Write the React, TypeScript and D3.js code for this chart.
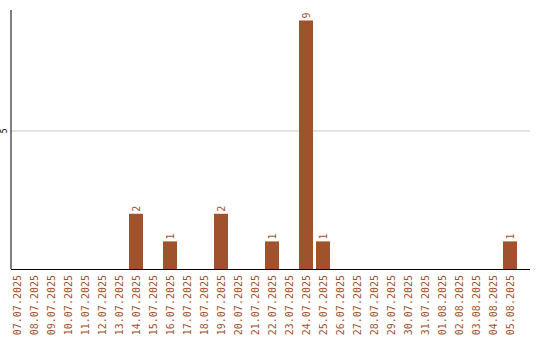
import React from "react";
import * as d3 from "d3";

const dates = [
  "07.07.2025", "08.07.2025", "09.07.2025", "10.07.2025", "11.07.2025",
  "12.07.2025", "13.07.2025", "14.07.2025", "15.07.2025", "16.07.2025",
  "17.07.2025", "18.07.2025", "19.07.2025", "20.07.2025", "21.07.2025",
  "22.07.2025", "23.07.2025", "24.07.2025", "25.07.2025", "26.07.2025",
  "27.07.2025", "28.07.2025", "29.07.2025", "30.07.2025", "31.07.2025",
  "01.08.2025", "02.08.2025", "03.08.2025", "04.08.2025", "05.08.2025",
];
const counts = [
  0, 0, 0, 0, 0, 0, 0, 2, 0, 1,
  0, 0, 2, 0, 0, 1, 0, 9, 1, 0,
  0, 0, 0, 0, 0, 0, 0, 0, 0, 1,
];
const yTicks = [5];

const W = 540;
const H = 340;
const left = 11;
const right = 530;
const top = 10;
const bottom = 269;
const color = "#a0522d";
const mono = "'DejaVu Sans Mono', monospace";

export default function App() {
  const x = d3
    .scaleBand<string>()
    .domain(dates)
    .range([8.5, 518.5])
    .paddingInner(3 / 17)
    .paddingOuter(1.5 / 17);
  const y = d3.scaleLinear().domain([0, 9.38]).range([bottom, top]);
  const bw = 14;

  return (
    <svg
      width={W}
      height={H}
      style={{ position: "absolute", left: 0, top: 0 }}
    >
      <rect width={W} height={H} fill="#fff" />
      {yTicks.map((t) => (
        <g key={t}>
          <line x1={left} x2={right} y1={y(t)} y2={y(t)} stroke="#c8c8c8" strokeWidth={1} />
          <text
            transform={`translate(7,${y(t)}) rotate(-90)`}
            textAnchor="middle"
            fontFamily={mono}
            fontSize={8}
            fill="#000"
          >
            {t}
          </text>
        </g>
      ))}
      {dates.map((d, i) => {
        const c = (x(d) as number) + x.bandwidth() / 2;
        const v = counts[i];
        return (
          <g key={d}>
            {v > 0 && (
              <>
                <rect x={c - bw / 2} y={y(v)} width={bw} height={bottom - y(v)} fill={color} />
                <text
                  transform={`translate(${c + 3.5},${y(v) - 2}) rotate(-90)`}
                  textAnchor="start"
                  fontFamily={mono}
                  fontSize={10}
                  fill={color}
                >
                  {v}
                </text>
              </>
            )}
            <text
              transform={`translate(${c + 3.5},${bottom + 6}) rotate(-90)`}
              textAnchor="end"
              fontFamily={mono}
              fontSize={10}
              fill={color}
            >
              {d}
            </text>
          </g>
        );
      })}
      <line x1={left} x2={left} y1={top} y2={bottom} stroke="#000" strokeWidth={1} />
      <line x1={left} x2={right} y1={bottom + 0.5} y2={bottom + 0.5} stroke="#000" strokeWidth={1} />
    </svg>
  );
}
